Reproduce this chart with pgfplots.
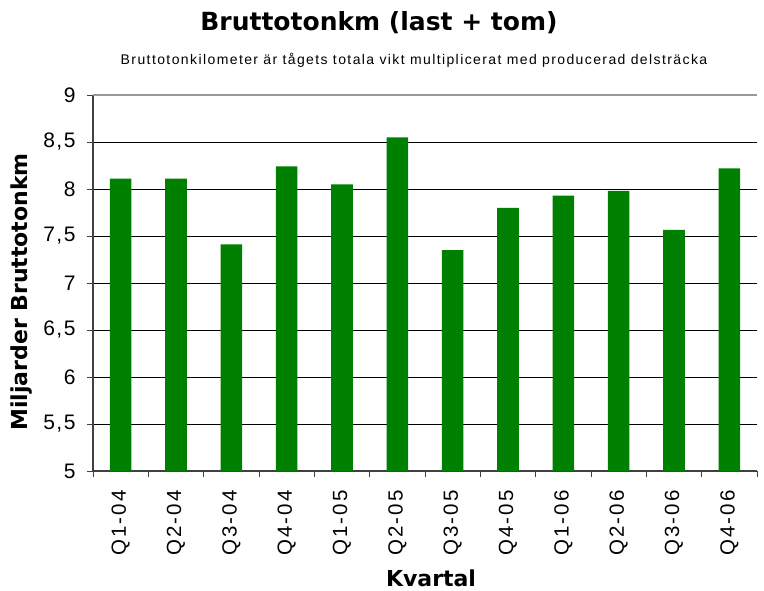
\documentclass[border=0pt]{standalone}
\usepackage{pgfplots}
\pgfplotsset{compat=1.18}
\usepackage{fontspec}
\setmainfont{Liberation Sans}
\newfontfamily\verd{DejaVu Sans}
\newfontfamily\spaced[LetterSpace=7]{Liberation Sans}
\newfontfamily\spacedb[LetterSpace=10]{Liberation Sans}
\definecolor{bargreen}{RGB}{0,128,0}
\begin{document}
\begin{tikzpicture}[x=1pt,y=1pt]
\useasboundingbox (0,0) rectangle (764,590);
\begin{axis}[
  at={(93pt,119pt)}, anchor=south west,
  scale only axis, width=664pt, height=376pt,
  xmin=-0.5, xmax=11.5, ymin=5, ymax=9,
  axis x line*=bottom, axis y line*=left,
  axis line style={draw=black!75, line width=1.2pt},
  tick align=outside, major tick length=6pt,
  tick style={draw=black!75, line width=0.8pt},
  xtick={-0.5,0.5,...,11.5}, xticklabels={},
  extra x ticks={0,1,2,3,4,5,6,7,8,9,10,11},
  extra x tick labels={Q1-04,Q2-04,Q3-04,Q4-04,Q1-05,Q2-05,Q3-05,Q4-05,Q1-06,Q2-06,Q3-06,Q4-06},
  extra x tick style={major tick length=0pt, tick style={draw=none}},
  xticklabel shift=16pt,
  x tick label style={rotate=90, anchor=east, font=\spacedb\fontsize{20.5}{24}\selectfont},
  ytick={5,5.5,6,6.5,7,7.5,8,8.5},
  yticklabels={5,{5,5},6,{6,5},7,{7,5},8,{8,5}},
  extra y ticks={9}, extra y tick labels={9},
  extra y tick style={grid style={draw=black!40, line width=1.5pt}},
  y tick label style={font=\spaced\fontsize{21}{24}\selectfont, xshift=-8pt},
  ymajorgrids, grid style={draw=black, line width=0.9pt},
  ybar, bar width=0.39, bar shift=0pt,
]
\addplot[fill=bargreen, draw=none] coordinates {
(0,8.11) (1,8.11) (2,7.41) (3,8.24) (4,8.05) (5,8.55)
(6,7.35) (7,7.80) (8,7.93) (9,7.98) (10,7.565) (11,8.22)};
\end{axis}
\node at (379,567) {\verd\bfseries\fontsize{25}{30}\selectfont Bruttotonkm (last + tom)};
\node at (414,530) {\spacedb\fontsize{14}{17}\selectfont Bruttotonkilometer är tågets totala vikt multiplicerat med producerad delsträcka};
\node[rotate=90] at (22,298) {\verd\bfseries\fontsize{22}{26}\selectfont Miljarder Bruttotonkm};
\node at (431,12) {\verd\bfseries\fontsize{22}{26}\selectfont Kvartal};
\end{tikzpicture}
\end{document}
